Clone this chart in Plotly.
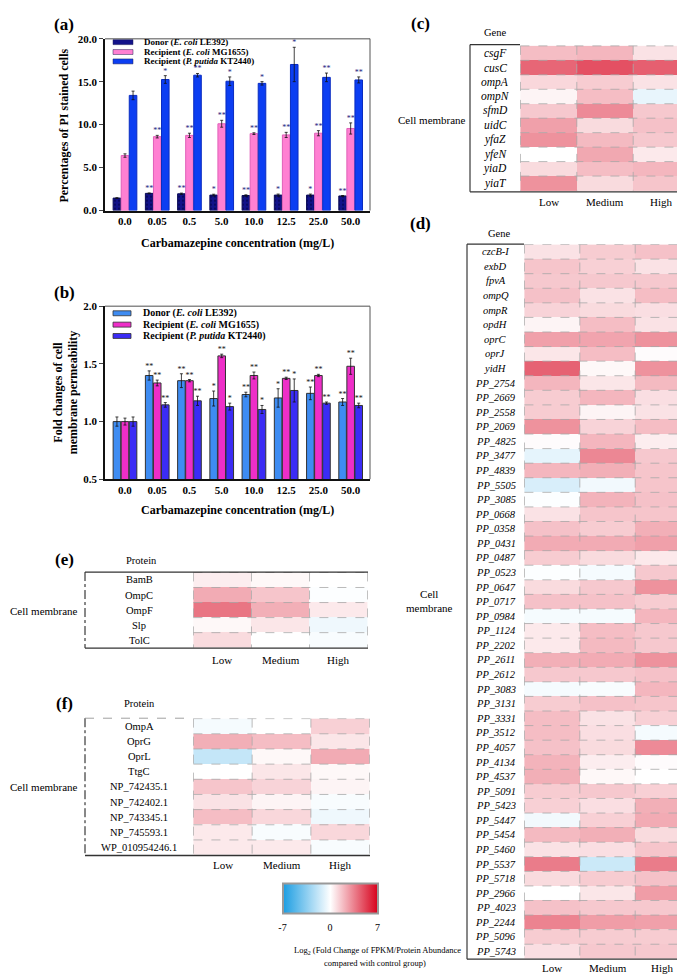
import plotly.graph_objects as go

SERIF = "Liberation Serif"
W, H = 685, 974

# ---- bar panels (a) and (b) ----
conc = ["0.0", "0.05", "0.5", "5.0", "10.0", "12.5", "25.0", "50.0"]
series_names = ["Donor (<i>E. coli</i> LE392)",
                "Recipient (<i>E. coli</i> MG1655)",
                "Recipient (<i>P. putida</i> KT2440)"]

a_donor = [1.45, 2.0, 1.95, 1.8, 1.75, 1.8, 1.8, 1.7]
a_donor_err = [0.05, 0.05, 0.08, 0.1, 0.08, 0.12, 0.12, 0.05]
a_mg = [6.4, 8.6, 8.75, 10.1, 8.95, 8.8, 9.0, 9.55]
a_mg_err = [0.2, 0.15, 0.25, 0.4, 0.1, 0.3, 0.3, 0.65]
a_kt = [13.4, 15.25, 15.75, 15.05, 14.8, 17.0, 15.5, 15.2]
a_kt_err = [0.5, 0.45, 0.2, 0.5, 0.2, 2.0, 0.5, 0.35]
a_donor_sig = ["", "**", "**", "*", "**", "*", "*", "**"]
a_mg_sig = ["", "**", "**", "**", "**", "**", "**", "**"]
a_kt_sig = ["", "*", "**", "*", "*", "*", "**", "**"]

b_donor = [1.0, 1.40, 1.355, 1.20, 1.235, 1.205, 1.245, 1.17]
b_donor_err = [0.04, 0.04, 0.06, 0.065, 0.02, 0.08, 0.055, 0.03]
b_mg = [1.0, 1.335, 1.355, 1.57, 1.40, 1.375, 1.40, 1.48]
b_mg_err = [0.03, 0.025, 0.01, 0.015, 0.03, 0.01, 0.01, 0.07]
b_kt = [1.0, 1.145, 1.18, 1.13, 1.105, 1.27, 1.16, 1.14]
b_kt_err = [0.04, 0.02, 0.04, 0.03, 0.035, 0.1, 0.01, 0.02]
b_donor_sig = ["", "**", "**", "*", "**", "*", "**", "**"]
b_mg_sig = ["", "**", "**", "**", "**", "**", "**", "**"]
b_kt_sig = ["", "**", "**", "*", "*", "*", "**", "**"]

# ---- heatmaps (c)-(f): log2 fold change ----
levels = ["Low", "Medium", "High"]

c_genes = ["csgF", "cusC", "ompA", "ompN", "sfmD", "uidC", "yfaZ", "yfeN", "yiaD", "yiaT"]
c_low = [1.8, 4.2, 1.1, 0.3, 1.5, 2.6, 3.0, 0.0, 1.0, 3.0]
c_med = [2.0, 4.8, 1.4, 1.8, 3.2, 1.0, 1.9, 2.4, 1.8, 1.0]
c_high = [0.8, 4.4, 0.8, -0.7, 1.5, 1.7, 1.5, 0.6, 2.0, 1.6]

d_genes = ["czcB-I", "exbD", "fpvA", "ompQ", "ompR", "opdH", "oprC", "oprJ", "yidH",
           "PP_2754", "PP_2669", "PP_2558", "PP_2069", "PP_4825", "PP_3477", "PP_4839",
           "PP_5505", "PP_3085", "PP_0668", "PP_0358", "PP_0431", "PP_0487", "PP_0523",
           "PP_0647", "PP_0717", "PP_0984", "PP_1124", "PP_2202", "PP_2611", "PP_2612",
           "PP_3083", "PP_3131", "PP_3331", "PP_3512", "PP_4057", "PP_4134", "PP_4537",
           "PP_5091", "PP_5423", "PP_5447", "PP_5454", "PP_5460", "PP_5537", "PP_5718",
           "PP_2966", "PP_4023", "PP_2244", "PP_5096", "PP_5743"]
d_low = [0.8, 1.6, 1.5, 1.7, 1.2, 0.3, 2.6, 0.7, 4.3,
         2.0, 1.4, 1.4, 3.0, 0.1, -0.8, 2.0, -1.2, -0.1, 0.8, 1.7, 2.3, 1.4, -0.1, 1.0,
         1.7, -0.3, 0.6, 0.6, 2.2, 1.5, -0.3, 1.4, 1.8, 1.8, 1.7, 2.1, 2.2, 1.4, 1.3,
         -0.4, 1.9, 0.8, 3.6, 1.0, 0.0, 1.7, 3.4, 1.4, 0.9]
d_med = [1.4, 1.3, 1.5, 0.8, 1.0, 1.8, 2.5, 1.8, 0.2,
         0.7, 2.0, 0.3, 1.2, 2.0, 3.3, 2.2, -0.4, 2.1, 1.6, 1.4, 2.3, 1.0, -0.3, 1.5,
         1.7, -0.3, 1.8, 1.9, 2.3, 1.5, -0.2, 1.7, 0.8, 0.9, 1.0, 0.5, 0.2, 1.5, 0.9,
         1.3, 2.2, 0.9, -1.6, 1.4, 0.7, 1.5, 2.7, 1.4, 1.5]
d_high = [1.7, 0.8, 1.5, 1.8, 0.9, 0.8, 3.0, 0.1, 3.0,
          1.9, 0.9, 0.8, 1.8, 0.5, 1.5, 1.6, 1.6, 1.7, 1.6, 2.2, 2.6, 0.6, 1.5, 3.0,
          1.4, 2.0, 1.5, 1.5, 3.0, 1.7, 2.0, 1.6, 1.3, -0.3, 3.2, 0.1, 0.0, 1.3, 2.2,
          2.3, 1.0, 1.6, 3.6, 1.7, 2.7, 1.5, 2.6, 1.4, 1.5]

e_proteins = ["BamB", "OmpC", "OmpF", "Slp", "TolC"]
e_low = [0.5, 2.3, 3.8, 0.2, 1.0]
e_med = [0.2, 1.6, 2.2, 0.7, 0.0]
e_high = [0.0, -0.1, 0.6, -0.5, -0.2]

f_proteins = ["OmpA", "OprG", "OprL", "TtgC", "NP_742435.1", "NP_742402.1",
              "NP_743345.1", "NP_745593.1", "WP_010954246.1"]
f_low = [-0.3, 2.2, -1.8, 0.0, 1.6, 0.8, 1.8, 0.6, 0.6]
f_med = [0.0, 1.8, 0.2, 0.7, 1.2, 0.3, 1.1, -0.2, 0.6]
f_high = [1.3, 0.7, 2.3, 0.2, 0.3, -0.2, -0.5, 1.1, -0.2]


def fx(px):
    return px / W


def fy(py):
    return 1 - py / H


fig = go.Figure()

# ---- bars ----
offsets = [-0.25, 0.0, 0.25]
bar_sets = [
    ("x", "y", [a_donor, a_mg, a_kt], [a_donor_err, a_mg_err, a_kt_err],
     [a_donor_sig, a_mg_sig, a_kt_sig],
     ["#12128a", "#ff80d2", "#0c3ef2"], ["#0a0a55", "#e060b8", "#0a2cc0"], "#1c1c80"),
    ("x2", "y2", [b_donor, b_mg, b_kt], [b_donor_err, b_mg_err, b_kt_err],
     [b_donor_sig, b_mg_sig, b_kt_sig],
     ["#3e8cf2", "#ee2ec8", "#3b2cf5"], ["#333333", "#333333", "#333333"], "#111111"),
]
for xa, ya, vals, errs, sigs, cols, lines, star_col in bar_sets:
    for k in range(3):
        xs = [i + offsets[k] for i in range(len(conc))]
        pattern = dict(shape=".", fgcolor="#000033", size=4, solidity=0.25) if (xa == "x" and k == 0) else dict(shape="")
        fig.add_trace(go.Bar(
            x=xs, y=vals[k], width=0.235, xaxis=xa, yaxis=ya,
            marker=dict(color=cols[k], line=dict(color=lines[k], width=1), pattern=pattern),
            error_y=dict(type="data", array=errs[k], color="#111111", thickness=0.8, width=1.5),
            showlegend=False, hoverinfo="skip"))
        fig.add_trace(go.Scatter(
            x=xs, y=[v + e for v, e in zip(vals[k], errs[k])], xaxis=xa, yaxis=ya,
            mode="text", text=sigs[k], textposition="top center",
            textfont=dict(family=SERIF, size=8, color=star_col),
            showlegend=False, hoverinfo="skip"))

# ---- heatmaps ----
cscale = [[0, "#1b9de2"], [0.5, "#ffffff"], [1, "#d7001b"]]
heat_sets = [
    ("x3", "y3", c_genes, [c_low, c_med, c_high]),
    ("x4", "y4", d_genes, [d_low, d_med, d_high]),
    ("x5", "y5", e_proteins, [e_low, e_med, e_high]),
    ("x6", "y6", f_proteins, [f_low, f_med, f_high]),
]
for n, (xa, ya, rows, cols) in enumerate(heat_sets):
    z = [list(r) for r in zip(*cols)]
    fig.add_trace(go.Heatmap(
        x=levels, y=rows, z=z, xaxis=xa, yaxis=ya, zmin=-7, zmax=7,
        colorscale=cscale, showscale=(n == 0), hoverinfo="skip",
        colorbar=dict(orientation="h", x=fx(322), xanchor="center", y=fy(906),
                      yanchor="middle", len=95, lenmode="pixels", thickness=30,
                      thicknessmode="pixels", tickvals=[-7, 0, 7], ticktext=["-7", "0", "7"],
                      ticks="outside", ticklen=5, tickcolor="rgba(0,0,0,0)",
                      tickfont=dict(family=SERIF, size=10), outlinewidth=2,
                      outlinecolor="#999999", xpad=0, ypad=0)))

shapes = []
annotations = []


def pline(x0, y0, x1, y1, color="#222222", width=1, dash="solid"):
    shapes.append(dict(type="line", xref="paper", yref="paper",
                       x0=fx(x0), y0=fy(y0), x1=fx(x1), y1=fy(y1),
                       line=dict(color=color, width=width, dash=dash)))


def text(x, y, s, size=11, xanchor="center", **kw):
    annotations.append(dict(xref="paper", yref="paper", x=fx(x), y=fy(y), text=s,
                            showarrow=False, xanchor=xanchor, yanchor="middle",
                            font=dict(family=SERIF, size=size, color="black"), **kw))


# heatmap geometry: (label col left, cells left, cells right, top, bottom, column label y)
heat_geo = [(462, 512, 682, 31, 180, 190), (459, 516, 683, 233, 957, 966),
            (77, 185, 360, 565, 642, 654), (77, 185, 362, 713, 852, 862)]
italic = [True, True, False, False]
lab_size = [11.5, 10.5, 10.5, 10.5]
for (xa, ya, rows, cols), (xl, xc, xr, yt, yb, ylab), it, ls in zip(heat_sets, heat_geo, italic, lab_size):
    n = len(rows)
    for i in range(0, n):
        shapes.append(dict(type="line", xref=xa, yref=ya, x0=-0.5, x1=2.5,
                           y0=i - 0.5, y1=i - 0.5,
                           line=dict(color="#a8a8a8", width=0.8, dash="dash")))
    for j in [-0.5, 0.5, 1.5, 2.5]:
        shapes.append(dict(type="line", xref=xa, yref=ya, x0=j, x1=j,
                           y0=-0.5, y1=n - 0.5,
                           line=dict(color="#a8a8a8", width=0.8, dash="dash")))
    for r in rows:
        annotations.append(dict(xref="paper", yref=ya, x=fx((xl + xc) / 2), y=r,
                                xanchor="center", yanchor="middle",
                                text=("<i>%s</i>" % r) if it else r, showarrow=False,
                                font=dict(family=SERIF, size=ls, color="black")))
    for lv in levels:
        annotations.append(dict(xref=xa, yref="paper", x=lv, y=fy(ylab),
                                xanchor="center", yanchor="middle", text=lv,
                                showarrow=False,
                                font=dict(family=SERIF, size=11, color="black")))
    left_dash = "solid" if it else "dashdot"
    pline(xl, yt, xl, yb, "#111111", 1, left_dash)
    pline(xl, yb, xr, yb, "#333333", 1.3)
    if it:
        pline(xl, yt, xc, yt, "#333333", 1.3)
    elif yt == 565:
        pline(xl, yt, xr, yt, "#333333", 1.3)
    else:
        pline(xl, yt, xc, yt, "#888888", 0.8, "dash")

# bar panel frames
for top, bot in [(25, 199), (296, 471)]:
    pline(97, top, 362, top, "#8a8a8a", 1.5)
    pline(362, top, 362, bot, "#555555", 1)

# manual legends
leg_a = [(28.5, "#12128a"), (38.5, "#ff80d2"), (48, "#0c3ef2")]
for (yy, col), name in zip(leg_a, series_names):
    shapes.append(dict(type="rect", xref="paper", yref="paper", x0=fx(105), x1=fx(125),
                       y0=fy(yy + 2.5), y1=fy(yy - 2.5), fillcolor=col,
                       line=dict(color="#222255", width=0.5)))
    text(134, yy, "<b>%s</b>" % name, size=9, xanchor="left")
leg_b = [(303, "#3e8cf2"), (314.5, "#ee2ec8"), (326, "#3b2cf5")]
for (yy, col), name in zip(leg_b, series_names):
    shapes.append(dict(type="rect", xref="paper", yref="paper", x0=fx(105), x1=fx(123),
                       y0=fy(yy + 2.5), y1=fy(yy - 2.5), fillcolor=col,
                       line=dict(color="#333333", width=0.8)))
    text(133, yy, "<b>%s</b>" % name, size=10, xanchor="left")

# panel letters and titles
for lab, x, y in [("(a)", 56, 11), ("(b)", 56, 282), ("(c)", 413, 10), ("(d)", 413, 212),
                  ("(e)", 56, 552), ("(f)", 56, 698)]:
    text(x, y, "<b>%s</b>" % lab, size=17)
text(56, 113, "<b>Percentages of PI stained cells</b>", size=12, textangle=-90)
text(58, 383, "<b>Fold changes of cell<br>membrane permeability</b>", size=12, textangle=-90)
text(230, 232, "<b>Carbamazepine concentration (mg/L)</b>", size=12)
text(230, 502, "<b>Carbamazepine concentration (mg/L)</b>", size=12)
text(487, 19, "Gene", size=10.5)
text(491, 222, "Gene", size=10.5)
text(133, 553, "Protein", size=10.5)
text(131, 698, "Protein", size=10.5)
text(424, 107, "Cell membrane", size=11)
text(421, 594, "Cell<br>membrane", size=11)
text(36, 604, "Cell membrane", size=11)
text(36, 783, "Cell membrane", size=11)
text(284, 948, "Log<sub>2</sub> (Fold Change of FPKM/Protein Abundance", size=8.5, xanchor="left")
text(314, 961, "compared with control group)", size=8.5, xanchor="left")

bar_tick = dict(family=SERIF, size=11, color="black", weight="bold")
heat_x = dict(showgrid=False, zeroline=False, showline=False, showticklabels=False,
              ticks="", fixedrange=True)
heat_y = dict(showgrid=False, zeroline=False, showline=False, showticklabels=False,
              autorange="reversed", fixedrange=True)

fig.update_layout(
    width=W, height=H, margin=dict(l=0, r=0, t=0, b=0),
    paper_bgcolor="white", plot_bgcolor="white",
    font=dict(family=SERIF, color="black"),
    barmode="overlay", showlegend=False,
    xaxis=dict(domain=[fx(97), fx(362)], anchor="y", range=[-0.62, 7.6],
               tickvals=list(range(len(conc))), ticktext=conc, ticks="",
               showline=True, linecolor="#111111", linewidth=1.5,
               showgrid=False, zeroline=False, tickfont=bar_tick),
    yaxis=dict(domain=[fy(199), fy(25)], anchor="x", range=[0, 20], dtick=5,
               tickformat=".1f", ticks="outside", ticklen=4, showline=True,
               linecolor="#111111", linewidth=1.5, showgrid=False, zeroline=False,
               tickfont=bar_tick),
    xaxis2=dict(domain=[fx(97), fx(362)], anchor="y2", range=[-0.62, 7.6],
                tickvals=list(range(len(conc))), ticktext=conc, ticks="",
                showline=True, linecolor="#111111", linewidth=1.5,
                showgrid=False, zeroline=False, tickfont=bar_tick),
    yaxis2=dict(domain=[fy(471), fy(296)], anchor="x2", range=[0.5, 2.0], dtick=0.5,
                tickformat=".1f", ticks="outside", ticklen=4, showline=True,
                linecolor="#111111", linewidth=1.5, showgrid=False, zeroline=False,
                tickfont=bar_tick),
    xaxis3=dict(domain=[fx(512), fx(682)], anchor="y3", **heat_x),
    yaxis3=dict(domain=[fy(180), fy(31)], anchor="x3", **heat_y),
    xaxis4=dict(domain=[fx(516), fx(683)], anchor="y4", **heat_x),
    yaxis4=dict(domain=[fy(957), fy(233)], anchor="x4", **heat_y),
    xaxis5=dict(domain=[fx(185), fx(360)], anchor="y5", **heat_x),
    yaxis5=dict(domain=[fy(642), fy(565)], anchor="x5", **heat_y),
    xaxis6=dict(domain=[fx(185), fx(362)], anchor="y6", **heat_x),
    yaxis6=dict(domain=[fy(852), fy(713)], anchor="x6", **heat_y),
    shapes=shapes, annotations=annotations,
)

fig.write_html("out.html")
